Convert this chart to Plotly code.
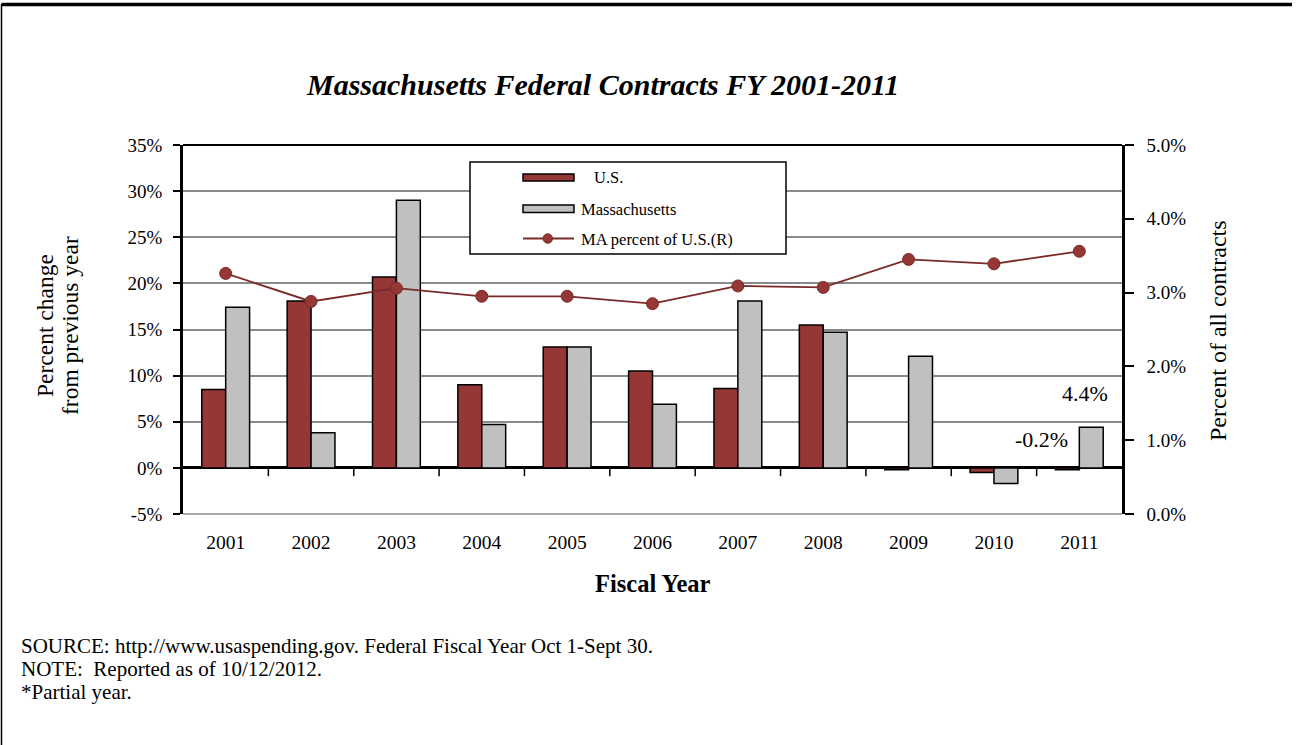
import plotly.graph_objects as go

years = ["2001", "2002", "2003", "2004", "2005", "2006", "2007", "2008", "2009", "2010", "2011"]
us_change = [8.5, 18.1, 20.7, 9.0, 13.1, 10.5, 8.6, 15.5, -0.2, -0.5, -0.2]
ma_change = [17.4, 3.8, 29.0, 4.7, 13.1, 6.9, 18.1, 14.7, 12.1, -1.7, 4.4]
ma_share = [3.26, 2.88, 3.06, 2.95, 2.95, 2.85, 3.09, 3.07, 3.45, 3.39, 3.56]

left_ticks = [-5, 0, 5, 10, 15, 20, 25, 30, 35]
right_ticks = [0, 1, 2, 3, 4, 5]

W, H = 1297, 745
L, R, T, B = 183, 1122, 145, 514  # plot area in px
FONT = "Liberation Serif, Times New Roman, serif"
RED = "#953735"
LINE_RED = "#7a2a28"
GRAY = "#c0c0c0"


def px(x):
    return (x - L) / (R - L)


def py(y):
    return (B - y) / (B - T)


fig = go.Figure()
fig.add_trace(go.Bar(x=years, y=us_change, name="U.S.", marker=dict(color=RED, line=dict(color="black", width=1.5)),
                     showlegend=False))
fig.add_trace(go.Bar(x=years, y=ma_change, name="Massachusetts",
                     marker=dict(color=GRAY, line=dict(color="black", width=1.5)), showlegend=False))
fig.add_trace(go.Scatter(x=years, y=ma_share, name="MA percent of U.S.(R)", yaxis="y2", mode="lines+markers",
                         line=dict(color=LINE_RED, width=1.8),
                         marker=dict(size=12, color=RED, line=dict(color=LINE_RED, width=1)),
                         showlegend=False))

shapes = []
# tick marks on the zero line between categories
for i in range(len(years) - 1):
    shapes.append(dict(type="line", xref="x", yref="y", x0=i + 0.5, x1=i + 0.5, y0=0, y1=-0.9,
                       line=dict(color="black", width=1.5)))
# bottom gridline and top border of plot area
shapes.append(dict(type="line", xref="paper", yref="paper", x0=0, x1=1, y0=0, y1=0,
                   line=dict(color="#8a8a8a", width=1.5), layer="below"))
shapes.append(dict(type="line", xref="paper", yref="paper", x0=0, x1=1, y0=1, y1=1,
                   line=dict(color="black", width=2)))
# outer frame
shapes.append(dict(type="line", xref="paper", yref="paper", x0=px(1.5), x1=px(1292), y0=py(4.5), y1=py(4.5),
                   line=dict(color="black", width=3.5)))
shapes.append(dict(type="line", xref="paper", yref="paper", x0=px(1.5), x1=px(1.5), y0=py(4), y1=py(746),
                   line=dict(color="black", width=1.5)))
# custom legend
shapes.append(dict(type="rect", xref="paper", yref="paper", x0=px(470), x1=px(786), y0=py(162), y1=py(254),
                   line=dict(color="black", width=1.5), fillcolor="white", layer="above"))
shapes.append(dict(type="rect", xref="paper", yref="paper", x0=px(523), x1=px(574), y0=py(174), y1=py(181),
                   line=dict(color="black", width=1.5), fillcolor=RED, layer="above"))
shapes.append(dict(type="rect", xref="paper", yref="paper", x0=px(523), x1=px(574), y0=py(205), y1=py(212.5),
                   line=dict(color="black", width=1.5), fillcolor=GRAY, layer="above"))
shapes.append(dict(type="line", xref="paper", yref="paper", x0=px(523), x1=px(574), y0=py(238.5), y1=py(238.5),
                   line=dict(color=LINE_RED, width=1.8), layer="above"))
shapes.append(dict(type="circle", xref="paper", yref="paper", x0=px(543), x1=px(552.5), y0=py(233.8), y1=py(243.3),
                   line=dict(color=LINE_RED, width=1), fillcolor=RED, layer="above"))

annotations = []
for label, xp, yp in [("U.S.", 592, 177), ("Massachusetts", 579, 209), ("MA percent of U.S.(R)", 579, 239)]:
    annotations.append(dict(text=label, xref="paper", yref="paper", x=px(xp), y=py(yp), xanchor="left",
                            yanchor="middle", showarrow=False, font=dict(family=FONT, size=16.5, color="black")))

# data labels for 2011
annotations.append(dict(text=f"{ma_change[-1]:.1f}%", xref="x", yref="y", x=len(years) - 1, y=ma_change[-1],
                        xshift=6, yshift=34, showarrow=False, font=dict(family=FONT, size=22, color="black")))
annotations.append(dict(text=f"{us_change[-1]:.1f}%", xref="x", yref="y", x=len(years) - 1, y=us_change[-1],
                        xshift=-38, yshift=30, showarrow=False, font=dict(family=FONT, size=22, color="black")))

# title
annotations.append(dict(text="<b><i>Massachusetts Federal Contracts FY 2001-2011</i></b>", xref="paper",
                        yref="paper", x=px(602), y=py(84), xanchor="center", yanchor="middle", showarrow=False,
                        font=dict(family=FONT, size=30, color="black")))
# axis titles
annotations.append(dict(text="Percent change", xref="paper", yref="paper", x=px(45), y=py(326),
                        textangle=-90, xanchor="center", yanchor="middle", showarrow=False,
                        font=dict(family=FONT, size=23.5, color="black")))
annotations.append(dict(text="from previous year", xref="paper", yref="paper", x=px(70), y=py(326),
                        textangle=-90, xanchor="center", yanchor="middle", showarrow=False,
                        font=dict(family=FONT, size=23.5, color="black")))
annotations.append(dict(text="Percent of all contracts", xref="paper", yref="paper", x=px(1218), y=py(331),
                        textangle=-90, xanchor="center", yanchor="middle", showarrow=False,
                        font=dict(family=FONT, size=24, color="black")))
annotations.append(dict(text="<b>Fiscal Year</b>", xref="paper", yref="paper", x=px(652.5), y=py(583),
                        xanchor="center", yanchor="middle", showarrow=False,
                        font=dict(family=FONT, size=24.5, color="black")))
# footnotes
for i, line in enumerate(["SOURCE: http://www.usaspending.gov. Federal Fiscal Year Oct 1-Sept 30.",
                          "NOTE:  Reported as of 10/12/2012.",
                          "*Partial year."]):
    annotations.append(dict(text=line, xref="paper", yref="paper", x=px(19), y=py(646 + 23 * i),
                            xanchor="left", yanchor="middle", showarrow=False,
                            font=dict(family=FONT, size=21, color="black")))

fig.update_layout(
    width=W, height=H,
    margin=dict(l=L, r=W - R, t=T, b=H - B, pad=0),
    paper_bgcolor="white", plot_bgcolor="white",
    font=dict(family=FONT, size=19, color="black"),
    barmode="group", bargap=0.44, bargroupgap=0,
    shapes=shapes, annotations=annotations,
    xaxis=dict(type="category", categoryorder="array", categoryarray=years,
               range=[-0.5, len(years) - 0.5], autorange=False,
               showline=False, showgrid=False, ticks="", ticklabelstandoff=14,
               tickfont=dict(size=19.5)),
    yaxis=dict(range=[left_ticks[0], left_ticks[-1]], tickvals=left_ticks,
               ticktext=[f"{v}%" for v in left_ticks], showline=True, linecolor="black", linewidth=2.5,
               ticks="outside", ticklen=7, tickwidth=1.5, tickcolor="black", ticklabelstandoff=7,
               showgrid=True, gridcolor="#8a8a8a", gridwidth=1.5,
               zeroline=True, zerolinecolor="black", zerolinewidth=2.5),
    yaxis2=dict(overlaying="y", side="right", range=[right_ticks[0], right_ticks[-1]], tickvals=right_ticks,
                ticktext=[f"{v:.1f}%" for v in right_ticks], showline=True, linecolor="black", linewidth=2.5,
                ticks="outside", ticklen=9, tickwidth=1.5, tickcolor="black", ticklabelstandoff=9,
                showgrid=False, zeroline=False),
)

fig.write_html("out.html", config={"displayModeBar": False},
               post_script="document.body.style.margin='0';")
